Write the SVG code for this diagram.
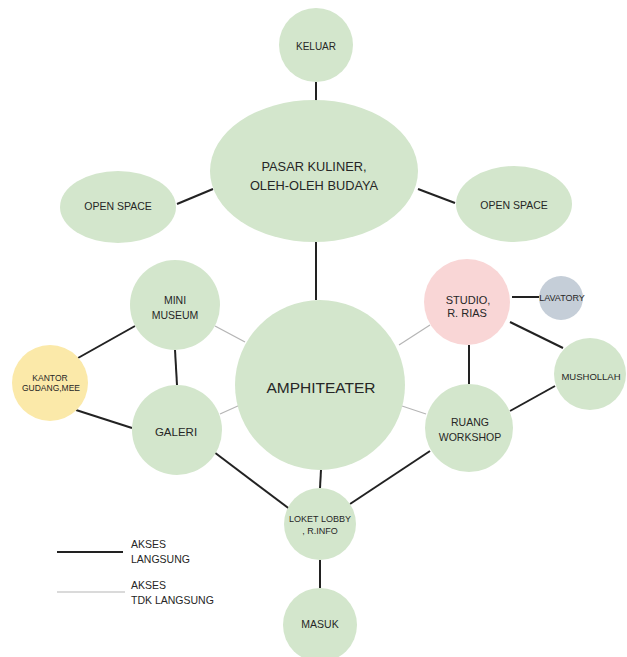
<svg xmlns="http://www.w3.org/2000/svg" width="627" height="657" viewBox="0 0 627 657">
<style>
.g{fill:#d3e6cc}
.p{fill:#f9d6d6}
.y{fill:#fbe9a9}
.b{fill:#c5ced8}
.t{font-family:"Liberation Sans",Arial,sans-serif;fill:#262626;text-anchor:middle;dominant-baseline:central;font-size:10.5px}
.lt{font-family:"Liberation Sans",Arial,sans-serif;fill:#262626;font-size:10.5px;dominant-baseline:central}
.d{stroke:#222;stroke-width:2;fill:none}
.i{stroke:#b5b5b5;stroke-width:1.2;fill:none}
</style>
<rect width="627" height="657" fill="#fff"/>
<g id="connectors">
<line class="d" x1="316" y1="82" x2="316" y2="101"/>
<line class="d" x1="177" y1="204" x2="213" y2="189"/>
<line class="d" x1="418" y1="189" x2="455" y2="203"/>
<line class="d" x1="316" y1="242" x2="316" y2="300"/>
<line class="d" x1="78" y1="358" x2="135" y2="326"/>
<line class="d" x1="175" y1="350" x2="177" y2="385"/>
<line class="d" x1="76" y1="410" x2="132" y2="428"/>
<line class="d" x1="214" y1="452" x2="291" y2="510"/>
<line class="i" x1="215" y1="326" x2="245" y2="342"/>
<line class="i" x1="220" y1="414" x2="240" y2="405"/>
<line class="d" x1="512" y1="297" x2="541" y2="297"/>
<line class="d" x1="510" y1="322" x2="563" y2="348"/>
<line class="d" x1="469" y1="345" x2="469" y2="384"/>
<line class="d" x1="510" y1="411" x2="555" y2="386"/>
<line class="i" x1="399" y1="345" x2="430" y2="325"/>
<line class="i" x1="402" y1="406" x2="426" y2="414"/>
<line class="d" x1="430" y1="451" x2="350" y2="504"/>
<line class="d" x1="321" y1="470" x2="320" y2="488"/>
<line class="d" x1="320" y1="560" x2="320" y2="588"/>
</g>
<g id="keluar"><circle class="g" cx="316" cy="45" r="37"/><text class="t" style="font-size:10px" x="316" y="46">KELUAR</text></g>
<g id="pasar"><ellipse class="g" cx="314" cy="171" rx="104" ry="71"/><text class="t" style="font-size:12.8px" x="314" y="166">PASAR KULINER,</text><text class="t" style="font-size:12.8px" x="314" y="185">OLEH-OLEH BUDAYA</text></g>
<g id="open-left"><ellipse class="g" cx="118" cy="207" rx="58" ry="36"/><text class="t" x="118" y="206">OPEN SPACE</text></g>
<g id="open-right"><ellipse class="g" cx="514" cy="204" rx="58" ry="38"/><text class="t" x="514" y="205">OPEN SPACE</text></g>
<g id="amphiteater"><circle class="g" cx="320" cy="385" r="85"/><text class="t" style="font-size:15.5px" x="321" y="387">AMPHITEATER</text></g>
<g id="mini-museum"><circle class="g" cx="175" cy="305" r="45"/><text class="t" x="175" y="300">MINI</text><text class="t" x="175" y="315">MUSEUM</text></g>
<g id="kantor"><circle class="y" cx="50" cy="383" r="38"/><text class="t" style="font-size:8.5px" x="50" y="378">KANTOR</text><text class="t" style="font-size:8.5px" x="51" y="388">GUDANG,MEE</text></g>
<g id="galeri"><circle class="g" cx="177" cy="430" r="45"/><text class="t" style="font-size:11.5px" x="176" y="432">GALERI</text></g>
<g id="studio"><circle class="p" cx="467" cy="302" r="43"/><text class="t" style="font-size:11px" x="468" y="300">STUDIO,</text><text class="t" style="font-size:11px" x="467" y="313">R. RIAS</text></g>
<g id="lavatory"><circle class="b" cx="561" cy="298" r="22"/><text class="t" style="font-size:9px" x="562" y="298">LAVATORY</text></g>
<g id="mushollah"><circle class="g" cx="590" cy="374" r="36"/><text class="t" style="font-size:9.5px" x="591" y="376">MUSHOLLAH</text></g>
<g id="ruang-workshop"><circle class="g" cx="469" cy="428" r="44"/><text class="t" x="470" y="422">RUANG</text><text class="t" x="470" y="437">WORKSHOP</text></g>
<g id="loket"><circle class="g" cx="320" cy="524" r="36"/><text class="t" style="font-size:9px" x="320" y="519">LOKET LOBBY</text><text class="t" style="font-size:9px" x="320" y="531">, R.INFO</text></g>
<g id="masuk"><circle class="g" cx="320" cy="625" r="37"/><text class="t" x="320" y="624">MASUK</text></g>
<g id="legend">
<line class="d" x1="57" y1="552" x2="123" y2="552"/>
<line class="i" x1="57" y1="592" x2="125" y2="592"/>
<text class="lt" x="131" y="544">AKSES</text>
<text class="lt" x="131" y="559">LANGSUNG</text>
<text class="lt" x="131" y="585">AKSES</text>
<text class="lt" x="131" y="600">TDK LANGSUNG</text>
</g>
</svg>
